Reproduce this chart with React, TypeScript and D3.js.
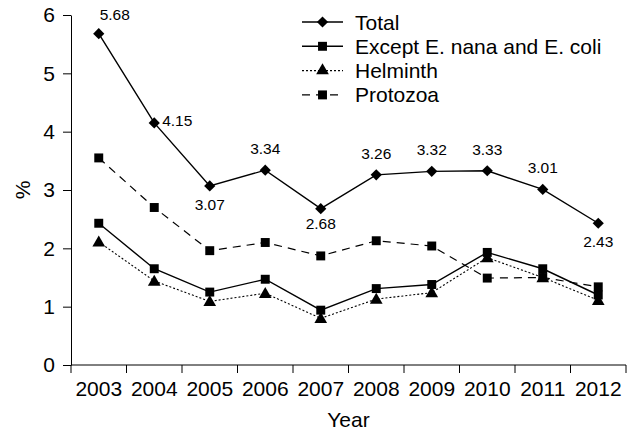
import React, { useEffect, useRef } from "react";
import * as d3 from "d3";

const years = ["2003", "2004", "2005", "2006", "2007", "2008", "2009", "2010", "2011", "2012"];
const total = [5.68, 4.15, 3.07, 3.34, 2.68, 3.26, 3.32, 3.33, 3.01, 2.43];
const exceptNanaColi = [2.43, 1.65, 1.25, 1.47, 0.94, 1.31, 1.38, 1.93, 1.65, 1.2];
const helminth = [2.11, 1.44, 1.09, 1.23, 0.8, 1.13, 1.24, 1.84, 1.5, 1.11];
const protozoa = [3.55, 2.7, 1.96, 2.1, 1.87, 2.13, 2.04, 1.49, 1.5, 1.34];
const yTicks = [0, 1, 2, 3, 4, 5, 6];
// where each "Total" value label sits relative to its point
const totalLabelPos = ["aboveRight", "right", "below", "above", "belowNear", "above", "above", "above", "above", "below"];

const FONT = "'Liberation Sans', Arial, sans-serif";

export default function App() {
  const svgRef = useRef<SVGSVGElement | null>(null);

  useEffect(() => {
    document.body.style.margin = "0";
    if (!svgRef.current) return;
    const svg = d3.select(svgRef.current);
    svg.selectAll("*").remove();

    const height = 434;
    const margin = { top: 15, right: 10, bottom: 69, left: 71 };
    const innerW = 626 - margin.left;
    const innerH = height - margin.top - margin.bottom;

    const g = svg.append("g").attr("transform", `translate(${margin.left},${margin.top})`);

    const x = d3.scaleBand().domain(years).range([0, innerW]).padding(0);
    const cx = (i: number) => (x(years[i]) as number) + x.bandwidth() / 2;
    const y = d3.scaleLinear().domain([0, 6]).range([innerH, 0]);

    // y axis
    const yAxis = d3
      .axisLeft(y)
      .tickValues(yTicks)
      .tickFormat(d3.format("d"))
      .tickSize(8)
      .tickSizeOuter(0)
      .tickPadding(8);
    const ya = g.append("g").call(yAxis);
    ya.select(".domain").attr("stroke", "#000");
    ya.selectAll("text").attr("font-size", 21).attr("font-family", FONT).attr("fill", "#000");

    // x axis: ticks at band edges, labels centered in bands
    g.append("line")
      .attr("x1", 0).attr("x2", innerW)
      .attr("y1", innerH).attr("y2", innerH)
      .attr("stroke", "#000");
    const edges = years.map((d) => x(d) as number).concat([innerW]);
    g.selectAll(".xtick")
      .data(edges)
      .enter()
      .append("line")
      .attr("x1", (d) => d).attr("x2", (d) => d)
      .attr("y1", innerH).attr("y2", innerH + 8)
      .attr("stroke", "#000");
    g.selectAll(".xlab")
      .data(years)
      .enter()
      .append("text")
      .attr("x", (_, i) => cx(i))
      .attr("y", innerH + 31)
      .attr("text-anchor", "middle")
      .attr("font-size", 21)
      .attr("font-family", FONT)
      .text((d) => d);

    svg.append("text")
      .attr("x", margin.left + innerW / 2)
      .attr("y", 427)
      .attr("text-anchor", "middle")
      .attr("font-size", 21)
      .attr("font-family", FONT)
      .text("Year");
    svg.append("text")
      .attr("transform", `translate(30,${margin.top + y(3)}) rotate(-90)`)
      .attr("text-anchor", "middle")
      .attr("font-size", 21)
      .attr("font-family", FONT)
      .text("%");

    const series = [
      { name: "Total", values: total, dash: null, width: 1.4, marker: d3.symbolDiamond2, msize: 80 },
      { name: "Except E. nana and E. coli", values: exceptNanaColi, dash: null, width: 1.4, marker: d3.symbolSquare, msize: 80 },
      { name: "Helminth", values: helminth, dash: "2,2", width: 1.1, marker: d3.symbolTriangle, msize: 70 },
      { name: "Protozoa", values: protozoa, dash: "8,6", width: 1.2, marker: d3.symbolSquare, msize: 80 },
    ];

    const line = d3
      .line<number>()
      .x((_, i) => cx(i))
      .y((d) => y(d));

    series.forEach((s) => {
      g.append("path")
        .datum(s.values)
        .attr("d", line)
        .attr("fill", "none")
        .attr("stroke", "#000")
        .attr("stroke-width", s.width)
        .attr("stroke-dasharray", s.dash);
      g.selectAll(null)
        .data(s.values)
        .enter()
        .append("path")
        .attr("d", d3.symbol().type(s.marker).size(s.msize)())
        .attr("transform", (d, i) => `translate(${cx(i)},${y(d) + (s.marker === d3.symbolTriangle ? 1 : 0)})`)
        .attr("fill", "#000");
    });

    // value labels for Total
    g.selectAll(".vlab")
      .data(total)
      .enter()
      .append("text")
      .attr("x", (_, i) => {
        const p = totalLabelPos[i];
        if (p === "aboveRight") return cx(i) + 16;
        if (p === "right") return cx(i) + 23;
        return cx(i);
      })
      .attr("y", (d, i) => {
        const p = totalLabelPos[i];
        if (p === "aboveRight") return y(d) - 14;
        if (p === "right") return y(d) + 3;
        if (p === "above") return y(d) - 16;
        if (p === "belowNear") return y(d) + 20;
        return y(d) + 24;
      })
      .attr("text-anchor", "middle")
      .attr("font-size", 15.5)
      .attr("font-family", FONT)
      .text((d) => d.toFixed(2));

    // legend
    const lg = svg.append("g").attr("transform", "translate(302,22)");
    series.forEach((s, i) => {
      const row = lg.append("g").attr("transform", `translate(0,${i * 24.3})`);
      row.append("line")
        .attr("x1", 0).attr("x2", 41)
        .attr("stroke", "#000")
        .attr("stroke-width", s.width)
        .attr("stroke-dasharray", s.dash);
      row.append("path")
        .attr("d", d3.symbol().type(s.marker).size(s.msize)())
        .attr("transform", "translate(20.5,0)")
        .attr("fill", "#000");
      row.append("text")
        .attr("x", 53)
        .attr("y", 7.5)
        .attr("font-size", 21)
        .attr("font-family", FONT)
        .text(s.name);
    });
  }, []);

  return <svg ref={svgRef} width={636} height={434} style={{ display: "block" }} />;
}
